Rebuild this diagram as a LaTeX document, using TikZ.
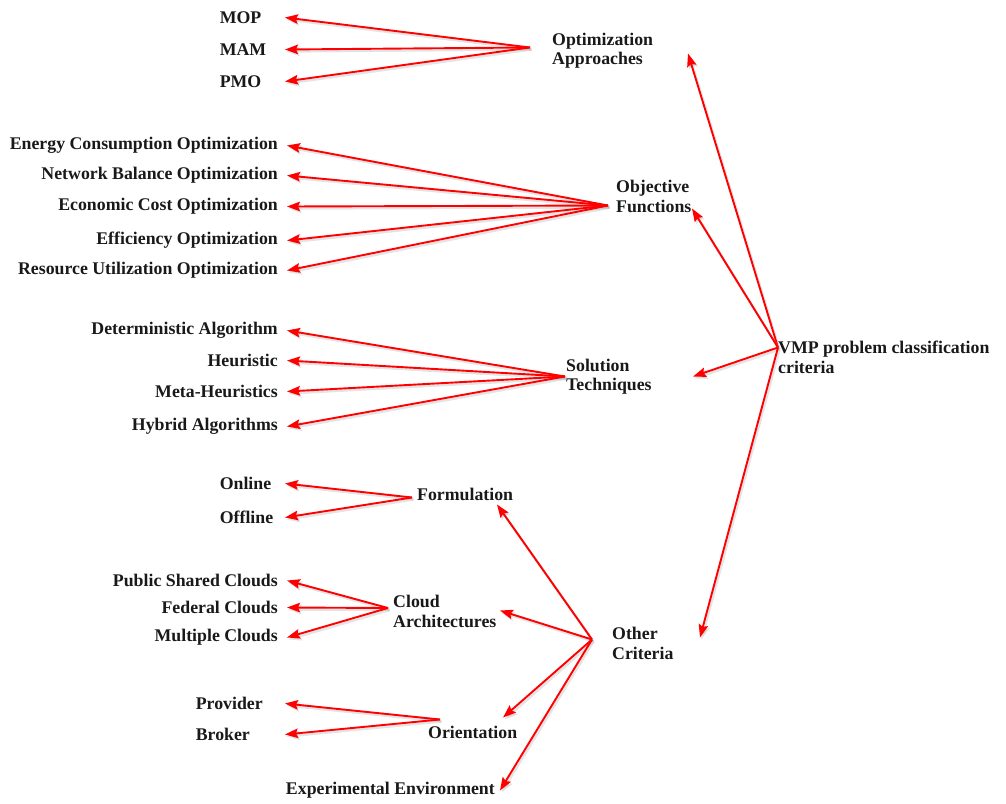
\documentclass[tikz,border=0pt]{standalone}
\usepackage{fontspec}
\setmainfont{Liberation Serif}
\usepackage{tikz}
\usetikzlibrary{arrows.meta, positioning}

\begin{document}
\begin{tikzpicture}[
        x=1pt, y=-1pt,
        every node/.style={font=\fontsize{17.8}{19.5}\selectfont\bfseries, text=black!90, yshift=-1.5pt},
        leaf/.style={anchor=east, inner xsep=9pt, inner ysep=2pt},
        lleaf/.style={anchor=east, inner xsep=0pt, inner ysep=2pt, align=left, text width=#1},
        hub/.style={anchor=west, align=left, inner sep=0pt},
        arr/.style={draw=red, line width=1.9pt, -{Stealth[length=13pt, width=9.5pt, inset=2pt]},
          preaction={draw=black!30, opacity=.35, line width=2.4pt,
            transform canvas={shift={(1.5pt,-2pt)}}}}
      ]
      \useasboundingbox (0,0) rectangle (1006,803);

      \node (vmp) [hub] at (778,356) {VMP problem classification\\criteria};
      \node (oa) [hub] at (552,49) {Optimization\\Approaches};
      \node (of) [hub] at (616,195) {Objective\\Functions};
      \node (st) [hub] at (566,375) {Solution\\Techniques};
      \node (oc) [hub] at (612,642) {Other\\Criteria};
      \node (form) [hub] at (417,493) {Formulation};
      \node (ca) [hub] at (393,610) {Cloud\\Architectures};
      \node (ori) [hub] at (428,731) {Orientation};
      \node (exp) [anchor=east, inner xsep=5pt, inner ysep=0pt] at (500,789) {Experimental Environment};

      \node (mop) [lleaf=65pt] at (285,16) {MOP};
      \node (mam) [lleaf=65pt] at (285,48) {MAM};
      \node (pmo) [lleaf=65pt] at (285,80) {PMO};

      \node (energy) [leaf] at (287,144) {Energy Consumption Optimization};
      \node (network) [leaf] at (287,174) {Network Balance Optimization};
      \node (economic) [leaf] at (287,205) {Economic Cost Optimization};
      \node (efficiency) [leaf] at (287,239) {Efficiency Optimization};
      \node (resource) [leaf] at (287,269) {Resource Utilization Optimization};

      \node (determ) [leaf] at (287,329) {Deterministic Algorithm};
      \node (heur) [leaf] at (287,359) {Heuristic};
      \node (meta) [leaf] at (287,390) {Meta-Heuristics};
      \node (hybrid) [leaf] at (287,425) {Hybrid Algorithms};

      \node (online) [lleaf=65pt] at (285,482) {Online};
      \node (offline) [lleaf=65pt] at (285,516) {Offline};

      \node (public) [leaf] at (287,579) {Public Shared Clouds};
      \node (federal) [leaf] at (287,606) {Federal Clouds};
      \node (multiple) [leaf] at (287,636) {Multiple Clouds};

      \node (provider) [lleaf=89pt] at (285,702) {Provider};
      \node (broker) [lleaf=89pt] at (285,733) {Broker};

      \coordinate (vmp-o) at (778,346);
      \coordinate (oa-o) at (530,46);
      \coordinate (of-o) at (608,204);
      \coordinate (st-o) at (565,375);
      \coordinate (oc-o) at (592,638);
      \coordinate (form-o) at (412,496);
      \coordinate (ca-o) at (388,606.5);
      \coordinate (ori-o) at (440,718);

      \coordinate (oa-in) at (688,52);
      \coordinate (of-in) at (692,207);
      \coordinate (st-in) at (693,375);
      \coordinate (oc-in) at (700,636);
      \coordinate (form-in) at (497,503);
      \coordinate (ca-in) at (500,609);
      \coordinate (ori-in) at (503,716);

      \draw[arr] (vmp-o) -- (oa-in);
      \draw[arr] (vmp-o) -- (of-in);
      \draw[arr] (vmp-o) -- (st-in);
      \draw[arr] (vmp-o) -- (oc-in);

      \draw[arr] (oa-o) -- (mop.east);
      \draw[arr] (oa-o) -- (mam.east);
      \draw[arr] (oa-o) -- (pmo.east);

      \draw[arr] (of-o) -- (energy.east);
      \draw[arr] (of-o) -- (network.east);
      \draw[arr] (of-o) -- (economic.east);
      \draw[arr] (of-o) -- (efficiency.east);
      \draw[arr] (of-o) -- (resource.east);

      \draw[arr] (st-o) -- (determ.east);
      \draw[arr] (st-o) -- (heur.east);
      \draw[arr] (st-o) -- (meta.east);
      \draw[arr] (st-o) -- (hybrid.east);

      \draw[arr] (oc-o) -- (form-in);
      \draw[arr] (oc-o) -- (ca-in);
      \draw[arr] (oc-o) -- (ori-in);
      \draw[arr] (oc-o) -- (exp.east);

      \draw[arr] (form-o) -- (online.east);
      \draw[arr] (form-o) -- (offline.east);

      \draw[arr] (ca-o) -- (public.east);
      \draw[arr] (ca-o) -- (federal.east);
      \draw[arr] (ca-o) -- (multiple.east);

      \draw[arr] (ori-o) -- (provider.east);
      \draw[arr] (ori-o) -- (broker.east);
    \end{tikzpicture}
\end{document}
